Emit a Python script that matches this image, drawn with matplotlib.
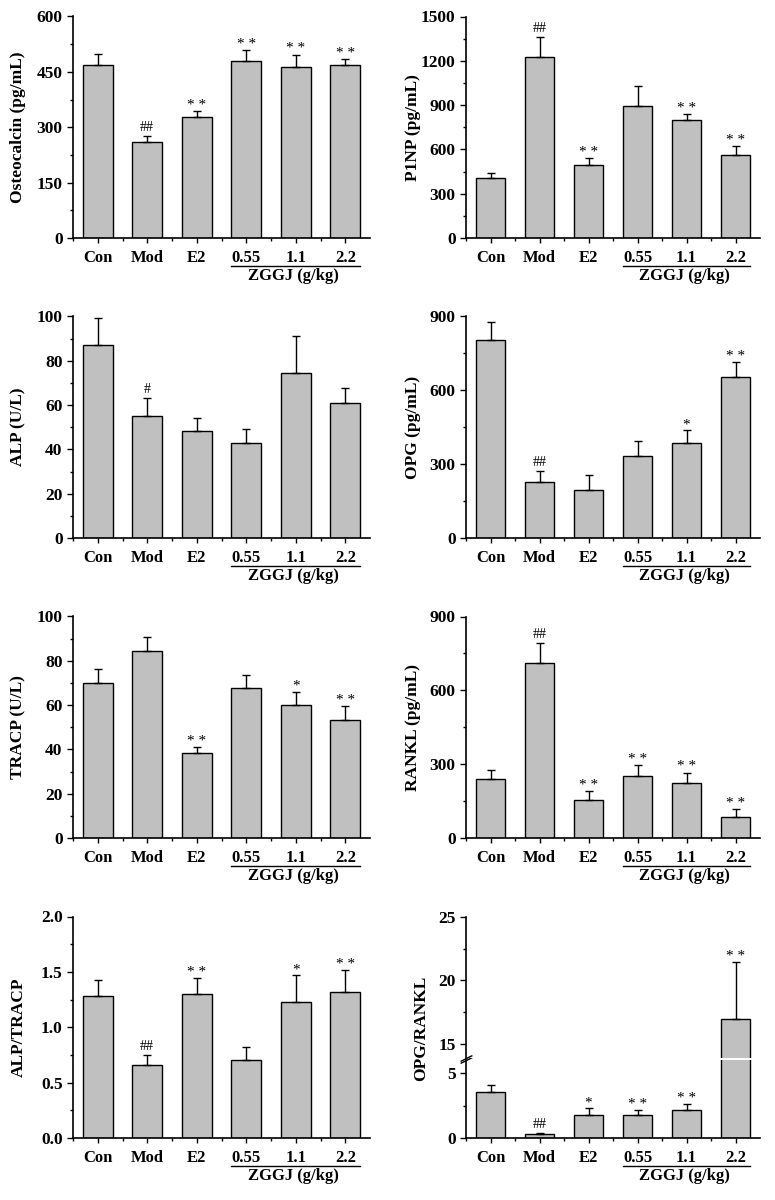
import numpy as np
import matplotlib
matplotlib.use('Agg')
import matplotlib.pyplot as plt
from matplotlib.ticker import MultipleLocator, FixedLocator, FormatStrFormatter
from matplotlib.transforms import offset_copy

plt.rcParams['font.family'] = ['Liberation Serif', 'DejaVu Serif']
plt.rcParams['font.weight'] = 'bold'
plt.rcParams['font.size'] = 12

groups = ['Con', 'Mod', 'E2', '0.55', '1.1', '2.2']

osteocalcin = [468, 259, 328, 480, 464, 468]
osteocalcin_err = [31, 18, 15, 30, 33, 18]
osteocalcin_sig = ['', '##', '**', '**', '**', '**']

p1np = [409, 1224, 492, 894, 797, 562]
p1np_err = [34, 138, 50, 133, 45, 63]
p1np_sig = ['', '##', '**', '', '**', '**']

alp = [87.1, 55.1, 48.5, 43.1, 74.3, 60.8]
alp_err = [12.0, 8.2, 5.5, 6.1, 17.0, 6.7]
alp_sig = ['', '#', '', '', '', '']

opg = [804, 226, 195, 333, 388, 654]
opg_err = [72, 46, 60, 61, 49, 62]
opg_sig = ['', '##', '', '', '*', '**']

tracp = [69.8, 84.3, 38.3, 67.7, 60.2, 53.3]
tracp_err = [6.4, 6.4, 2.7, 5.8, 5.8, 6.3]
tracp_sig = ['', '', '**', '', '*', '**']

rankl = [239, 711, 154, 250, 223, 84]
rankl_err = [39, 80, 35, 46, 43, 34]
rankl_sig = ['', '##', '**', '**', '**', '**']

alp_tracp = [1.28, 0.663, 1.298, 0.702, 1.229, 1.319]
alp_tracp_err = [0.144, 0.09, 0.147, 0.12, 0.24, 0.198]
alp_tracp_sig = ['', '##', '**', '', '*', '**']

opg_rankl = [3.54, 0.33, 1.74, 1.77, 2.18, 17.0]
opg_rankl_err = [0.56, 0.08, 0.54, 0.41, 0.41, 4.45]
opg_rankl_sig = ['', '##', '*', '**', '**', '**']

W, H = 775, 1200
fig = plt.figure(figsize=(W / 100, H / 100), dpi=100)
x = np.arange(len(groups))


def make_ax(col, bottom_px, top_px):
    left = [73, 466][col]
    width = [297, 294][col]
    return fig.add_axes([left / W, 1 - bottom_px / H, width / W, (bottom_px - top_px) / H])


def y_style(ax, step, ylim, fmt=None):
    ax.set_ylim(*ylim)
    ax.yaxis.set_major_locator(MultipleLocator(step))
    ax.yaxis.set_minor_locator(MultipleLocator(step / 2))
    if fmt:
        ax.yaxis.set_major_formatter(FormatStrFormatter(fmt))
    ax.tick_params(axis='y', which='major', length=4, width=1, direction='out', labelsize=12.5)
    ax.tick_params(axis='y', which='minor', length=2, width=1, direction='out')
    for s in ['top', 'right']:
        ax.spines[s].set_visible(False)
    ax.spines['left'].set_linewidth(1.2)
    ax.spines['bottom'].set_linewidth(1.2)


def x_style(ax):
    ax.set_xlim(-0.5, 5.5)
    ax.set_xticks(x)
    ax.set_xticklabels(groups)
    ax.xaxis.set_minor_locator(FixedLocator(np.arange(-0.5, 5.0, 1)))
    ax.tick_params(axis='x', which='major', length=3.5, width=1, pad=5)
    ax.tick_params(axis='x', which='minor', length=2, width=1)
    tr = offset_copy(ax.get_xaxis_transform(), fig=fig, y=-27.7, units='dots')
    ax.plot([2.7, 5.3], [0, 0], transform=tr, color='black', lw=1, clip_on=False)
    tr2 = offset_copy(ax.get_xaxis_transform(), fig=fig, y=-38, units='dots')
    ax.text(3.95, 0, 'ZGGJ (g/kg)', transform=tr2, ha='center', va='center')


def draw_bars(ax, vals, errs, sig):
    ax.bar(x, vals, width=0.6, color='#c0c0c0', edgecolor='black', linewidth=1, zorder=2)
    ax.errorbar(x, vals, yerr=[np.zeros(len(vals)), errs], fmt='none', ecolor='black',
                elinewidth=1, capsize=3, capthick=1, zorder=3)
    for xi, v, e, s in zip(x, vals, errs, sig):
        if not s:
            continue
        label = '* *' if s == '**' else s
        off = 1.5 if '*' in s else 3.5
        size = 11 if '*' in s else 10
        ax.annotate(label, (xi, v + e), xytext=(0, off), textcoords='offset points',
                    ha='center', va='baseline', fontsize=size, fontweight='normal')


def ylabel(col, row, text, xpx=None):
    if xpx is None:
        xpx = [18.5, 413][col]
    fig.text(xpx / W, 1 - (127.25 + 300 * row) / H, text, rotation=90,
             ha='center', va='center', fontsize=12.5)


panels = [
    (0, 0, osteocalcin, osteocalcin_err, osteocalcin_sig, 150, (0, 600), None, 'Osteocalcin (pg/mL)'),
    (1, 0, p1np, p1np_err, p1np_sig, 300, (0, 1500), None, 'P1NP (pg/mL)'),
    (0, 1, alp, alp_err, alp_sig, 20, (0, 100), None, 'ALP (U/L)'),
    (1, 1, opg, opg_err, opg_sig, 300, (0, 900), None, 'OPG (pg/mL)'),
    (0, 2, tracp, tracp_err, tracp_sig, 20, (0, 100), None, 'TRACP (U/L)'),
    (1, 2, rankl, rankl_err, rankl_sig, 300, (0, 900), None, 'RANKL (pg/mL)'),
    (0, 3, alp_tracp, alp_tracp_err, alp_tracp_sig, 0.5, (0, 2.0), '%.1f', 'ALP/TRACP'),
]

for col, row, vals, errs, sig, step, ylim, fmt, lab in panels:
    ax = make_ax(col, 238 + 300 * row, 16.5 + 300 * row)
    draw_bars(ax, vals, errs, sig)
    y_style(ax, step, ylim, fmt)
    x_style(ax)
    ylabel(col, row, lab)

# broken axis panel
ax_lo = make_ax(1, 1138, 1060)
ax_hi = make_ax(1, 1058, 916.7)
for ax in (ax_lo, ax_hi):
    draw_bars(ax, opg_rankl, opg_rankl_err, opg_rankl_sig)
    ax.set_xlim(-0.5, 5.5)
y_style(ax_lo, 5, (0, 6))
y_style(ax_hi, 5, (13.9, 25))
x_style(ax_lo)
ax_hi.spines['bottom'].set_visible(False)
ax_hi.set_xticks([])
ax_hi.tick_params(axis='x', which='minor', length=0)
for ax, yy in ((ax_hi, 0), (ax_lo, 1)):
    ax.plot([0], [yy], transform=ax.transAxes, marker=[(-1, -0.5), (1, 0.5)],
            markersize=8.5, linestyle='none', color='black', mec='black', mew=1,
            clip_on=False)
fig.text(421 / W, 1 - 1028 / H, 'OPG/RANKL', rotation=90, ha='center', va='center',
         fontsize=12.5)

fig.savefig('out.png', dpi=100, facecolor='white')
